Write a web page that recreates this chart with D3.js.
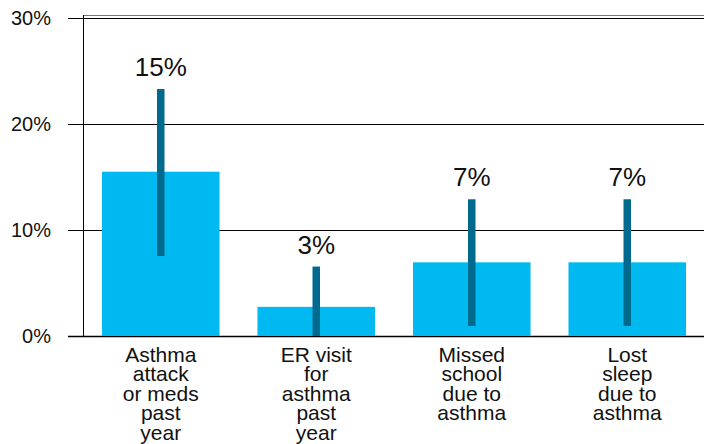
<!DOCTYPE html>
<html>
<head>
<meta charset="utf-8">
<script src="https://cdn.jsdelivr.net/npm/d3@7"></script>
<style>
  html, body { margin: 0; padding: 0; background: #fff; }
  svg { display: block; font-family: "Liberation Sans", Arial, sans-serif; }
</style>
</head>
<body>
<svg id="chart" width="704" height="444"></svg>
<script>
// Asthma outcomes: prevalence with confidence intervals
const categories = [
  ["Asthma", "attack", "or meds", "past", "year"],
  ["ER visit", "for", "asthma", "past", "year"],
  ["Missed", "school", "due to", "asthma"],
  ["Lost", "sleep", "due to", "asthma"]
];
const values = [15.5, 2.75, 6.95, 6.95];
const ciLow = [7.55, 0, 0.95, 0.95];
const ciHigh = [23.3, 6.55, 12.9, 12.9];
const valueLabels = ["15%", "3%", "7%", "7%"];
const yTicks = [0, 10, 20, 30];

const svg = d3.select("#chart");
const plotLeft = 83, plotRight = 705, plotTop = 18, plotBottom = 336;

const x = d3.scaleBand()
  .domain(d3.range(categories.length))
  .range([plotLeft, plotRight])
  .paddingInner(0.244)
  .paddingOuter(0.122);

const y = d3.scaleLinear().domain([0, 30]).range([plotBottom, plotTop]);

// frame top edge
svg.append("line")
  .attr("x1", plotLeft).attr("x2", 704)
  .attr("y1", 15.5).attr("y2", 15.5)
  .attr("stroke", "#777").attr("stroke-width", 1.2);

// gridlines with outside tick marks
svg.append("g").selectAll("line")
  .data(yTicks)
  .join("line")
  .attr("x1", 68).attr("x2", 704)
  .attr("y1", d => Math.round(y(d)) + 0.5)
  .attr("y2", d => Math.round(y(d)) + 0.5)
  .attr("stroke", "#000")
  .attr("stroke-width", d => d === 0 ? 1.4 : 1);

// y axis line
svg.append("line")
  .attr("x1", plotLeft + 0.5).attr("x2", plotLeft + 0.5)
  .attr("y1", 15).attr("y2", plotBottom)
  .attr("stroke", "#000").attr("stroke-width", 1);

// tick labels
svg.append("g").selectAll("text")
  .data(yTicks)
  .join("text")
  .attr("x", 51)
  .attr("y", d => y(d))
  .attr("dy", "0.35em")
  .attr("text-anchor", "end")
  .attr("font-size", 20)
  .attr("fill", "#111")
  .text(d => d + "%");

// bars
svg.append("g").selectAll("rect")
  .data(values)
  .join("rect")
  .attr("x", (d, i) => x(i))
  .attr("width", x.bandwidth())
  .attr("y", d => y(d))
  .attr("height", d => y(0) - y(d))
  .attr("fill", "#00B9F1");

// confidence interval bars
svg.append("g").selectAll("rect")
  .data(values)
  .join("rect")
  .attr("x", (d, i) => x(i) + x.bandwidth() / 2 - 3.75)
  .attr("width", 7.5)
  .attr("y", (d, i) => y(ciHigh[i]))
  .attr("height", (d, i) => y(ciLow[i]) - y(ciHigh[i]))
  .attr("fill", "#006A8E");

// value labels above interval bars
svg.append("g").selectAll("text")
  .data(valueLabels)
  .join("text")
  .attr("x", (d, i) => x(i) + x.bandwidth() / 2)
  .attr("y", (d, i) => y(ciHigh[i]) - 13)
  .attr("text-anchor", "middle")
  .attr("font-size", 26)
  .attr("fill", "#111")
  .text(d => d);

// category labels
const cat = svg.append("g").selectAll("text")
  .data(categories)
  .join("text")
  .attr("x", (d, i) => x(i) + x.bandwidth() / 2)
  .attr("y", 361.5)
  .attr("text-anchor", "middle")
  .attr("font-size", 21)
  .attr("fill", "#111");

cat.selectAll("tspan")
  .data(d => d)
  .join("tspan")
  .attr("x", function () { return d3.select(this.parentNode).attr("x"); })
  .attr("dy", (d, j) => j === 0 ? 0 : 19.5)
  .text(d => d);
</script>
</body>
</html>
